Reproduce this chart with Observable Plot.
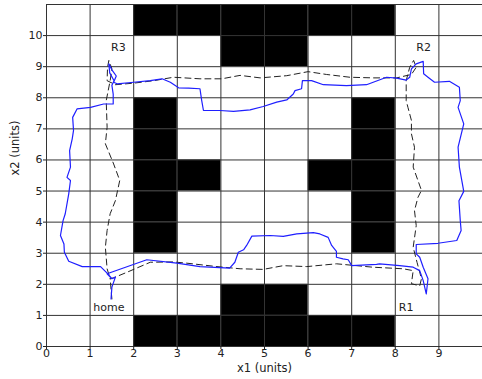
<!DOCTYPE html>
<html>
<head>
<meta charset="utf-8">
<script src="https://cdn.jsdelivr.net/npm/d3@7"></script>
<script src="https://cdn.jsdelivr.net/npm/@observablehq/plot@0.6"></script>
<style>
  html, body { margin: 0; padding: 0; background: #fff; }
</style>
</head>
<body>
<div id="chart"></div>
<script>
// Occupied (black) grid cells: [column x1, row x2]
const blackCols = [2,3,4,5,6,7, 4,5, 2,7, 2,7, 2,3,6,7, 2,7, 2,7, 4,5, 2,3,4,5,6,7];
const blackRows = [10,10,10,10,10,10, 9,9, 7,7, 6,6, 5,5,5,5, 4,4, 3,3, 1,1, 0,0,0,0,0,0];

// Solid (blue) trajectory
const blueX = [1.48,1.50,1.58,1.50,1.39,1.24,0.82,0.51,0.41,0.40,0.32,0.38,0.43,0.51,0.55,0.47,0.55,0.53,0.59,0.62,0.60,0.70,1.01,1.31,1.53,1.53,1.50,1.55,1.45,1.43,1.50,1.60,1.54,1.62,2.00,2.38,2.65,2.84,3.03,3.26,3.52,3.56,3.60,3.98,4.29,4.67,4.97,5.28,5.51,5.66,5.70,5.85,5.87,6.08,6.35,6.88,7.34,7.80,8.03,8.25,8.33,8.37,8.48,8.64,8.65,8.75,8.90,9.24,9.47,9.49,9.44,9.57,9.44,9.47,9.57,9.46,9.49,9.51,9.41,8.98,8.48,8.48,8.56,8.64,8.75,8.71,8.64,8.56,8.41,8.10,7.64,7.57,7.00,6.92,6.80,6.65,6.65,6.54,6.46,6.27,6.12,5.74,5.43,5.13,4.71,4.59,4.52,4.40,4.32,4.20,3.52,2.99,2.30,1.39,1.50,1.58,1.50,1.48];
const blueY = [1.53,1.91,2.23,2.18,2.36,2.57,2.57,2.74,3.03,3.30,3.57,4.05,4.27,4.91,5.34,5.44,5.77,6.30,6.68,6.95,7.37,7.64,7.69,7.80,7.80,8.12,8.40,8.55,8.80,9.09,8.90,8.70,8.50,8.45,8.50,8.55,8.61,8.50,8.32,8.31,8.29,7.91,7.59,7.59,7.56,7.61,7.72,7.86,7.93,8.12,8.23,8.29,8.55,8.55,8.42,8.39,8.42,8.66,8.63,8.57,8.66,8.93,9.09,9.17,8.77,8.66,8.50,8.53,8.34,7.91,7.69,7.16,6.41,5.77,4.99,4.69,4.05,3.73,3.41,3.32,3.28,2.98,2.87,2.55,2.18,1.69,2.12,2.44,2.55,2.60,2.66,2.64,2.60,2.79,2.82,2.87,3.06,3.25,3.51,3.62,3.66,3.62,3.54,3.57,3.55,3.25,3.11,3.03,2.71,2.52,2.57,2.68,2.79,2.34,2.18,2.23,1.91,1.53];

// Dashed (reference) trajectory
const dashX = [1.50,1.48,1.46,1.54,1.85,2.38,2.90,3.22,3.91,4.44,4.97,5.43,5.97,6.65,7.49,8.18,8.41,8.37,8.56,8.60,8.50,8.41,8.48,8.44,8.52,8.60,8.41,8.44,8.37,8.37,8.29,8.25,8.25,8.33,8.42,8.48,8.37,8.03,7.49,6.96,6.42,6.00,5.51,4.90,4.44,4.02,3.52,2.91,2.46,2.00,1.58,1.39,1.40,1.43,1.50,1.46,1.37,1.39,1.35,1.54,1.68,1.58,1.46,1.39,1.35,1.39,1.46];
const dashY = [1.53,1.85,2.18,2.21,2.39,2.71,2.72,2.68,2.57,2.50,2.48,2.60,2.57,2.66,2.55,2.50,2.44,2.02,1.95,2.18,2.70,3.19,3.89,4.37,4.80,5.02,5.77,6.41,6.84,7.27,7.69,7.91,8.55,8.98,9.20,8.98,8.75,8.64,8.64,8.66,8.75,8.84,8.71,8.64,8.72,8.61,8.61,8.66,8.55,8.47,8.42,8.55,8.98,9.20,8.93,8.55,7.91,7.05,6.52,5.87,5.34,4.69,4.27,3.73,3.19,2.50,2.18];

// Waypoint labels
const labelNames = ["R3", "R2", "home", "R1"];
const labelX = [1.65, 8.65, 1.43, 8.25];
const labelY = [9.62, 9.62, 1.26, 1.24];

const xTicks = [0,1,2,3,4,5,6,7,8,9];
const yTicks = [0,1,2,3,4,5,6,7,8,9,10];
const xGrid = [0,1,2,3,4,5,6,7,8,9,10];
const yGrid = [0,1,2,3,4,5,6,7,8,9,10,11];

const cells = blackCols.map((c, i) => ({c, r: blackRows[i]}));
const blue = blueX.map((x, i) => ({x, y: blueY[i]}));
const dash = dashX.map((x, i) => ({x, y: dashY[i]}));
const labels = labelNames.map((t, i) => ({t, x: labelX[i], y: labelY[i]}));

const chart = Plot.plot({
  width: 482,
  height: 379,
  marginLeft: 46,
  marginRight: 0,
  marginTop: 4,
  marginBottom: 33,
  style: {fontFamily: "DejaVu Sans", fontSize: "11px", background: "#fff", color: "#222"},
  x: {domain: [0, 10]},
  y: {domain: [0, 11]},
  marks: [
    Plot.rect(cells, {x1: "c", x2: d => d.c + 1, y1: "r", y2: d => d.r + 1, fill: "#000"}),
    Plot.gridX(xGrid, {stroke: "#333", strokeOpacity: 1, strokeWidth: 1}),
    Plot.gridY(yGrid, {stroke: "#333", strokeOpacity: 1, strokeWidth: 1}),
    Plot.axisX({ticks: xTicks, tickSize: 3, tickPadding: 0, label: null, fill: "#222", stroke: "#222"}),
    Plot.axisY({ticks: yTicks, tickSize: 3, tickPadding: 1, label: null, fill: "#222", stroke: "#222"}),
    Plot.text(["x1 (units)"], {frameAnchor: "bottom", dy: 25, fill: "#222", fontSize: 11.5}),
    Plot.text(["x2 (units)"], {frameAnchor: "left", dx: -31, rotate: -90, fill: "#222", fontSize: 11.5}),
    Plot.line(dash, {x: "x", y: "y", stroke: "#222", strokeWidth: 1, strokeDasharray: "6,4"}),
    Plot.line(blue, {x: "x", y: "y", stroke: "#1f1fff", strokeWidth: 1.2}),
    Plot.text(labels, {x: "x", y: "y", text: "t", fill: "#222"})
  ]
});
document.getElementById("chart").append(chart);
</script>
</body>
</html>
